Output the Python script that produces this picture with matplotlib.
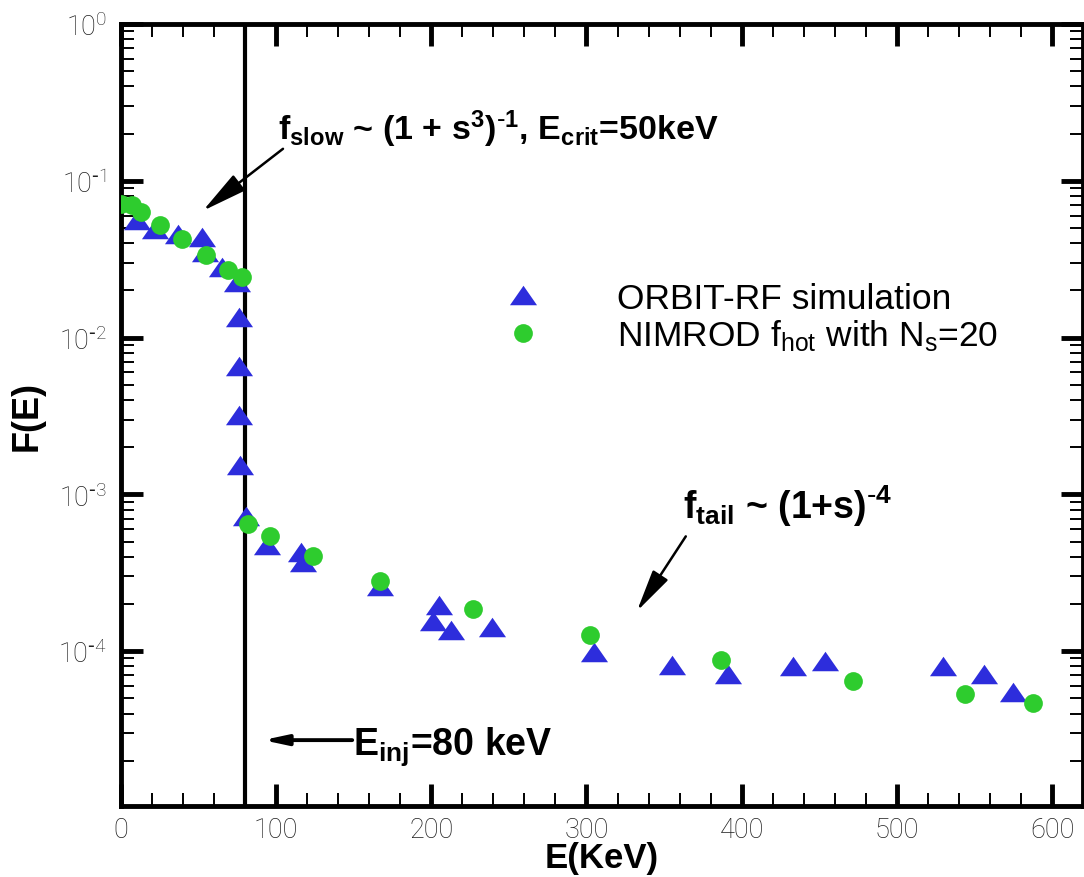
import matplotlib
matplotlib.use("Agg")
import matplotlib.pyplot as plt
from matplotlib.ticker import LogLocator, MultipleLocator, FixedLocator, NullFormatter, FuncFormatter
import numpy as np

plt.rcParams["axes.unicode_minus"] = False

# ---------------- data ----------------
orbit_E = [10, 22, 37, 52, 54, 65, 75, 76, 76, 76, 76.5, 80.5,
           94, 116, 117, 167, 201, 205, 213, 239, 305, 355, 391,
           433, 454, 530, 556, 575]
orbit_F = [0.056, 0.049, 0.046, 0.044, 0.035, 0.028, 0.0225, 0.0136, 0.0066,
           0.0032, 0.00153, 0.00073,
           4.75e-4, 4.3e-4, 3.7e-4, 2.6e-4, 1.55e-4, 1.97e-4, 1.37e-4, 1.42e-4,
           9.9e-5, 8.2e-5, 7.2e-5, 8.1e-5, 8.6e-5, 8.1e-5, 7.2e-5, 5.5e-5]

nimrod_E = [0, 7, 13, 25, 39, 55, 69, 78, 82, 96, 124, 167, 227, 302, 387,
            472, 544, 588]
nimrod_F = [0.0714, 0.0696, 0.0632, 0.0525, 0.0423, 0.0334, 0.0268, 0.0244,
            6.45e-4, 5.46e-4, 4.07e-4, 2.8e-4, 1.85e-4, 1.26e-4, 8.8e-5,
            6.5e-5, 5.3e-5, 4.7e-5]

E_inj = 80
x_ticks = [0, 100, 200, 300, 400, 500, 600]
series_labels = ["ORBIT-RF simulation", r"NIMROD $\mathdefault{f_{hot}}$ with $\mathdefault{N_{s}}$=20"]

# ---------------- style ----------------
BLUE = "#2d2ddc"
GREEN = "#2ecc2e"
tri = [(0, 0.72), (-1, -0.72), (1, -0.72)]

fig = plt.figure(figsize=(10.84, 8.78), dpi=100)
ax = fig.add_axes([121 / 1084, 1 - 807 / 878, (1083 - 121) / 1084, (807 - 25) / 878])

ax.plot(orbit_E, orbit_F, linestyle="none", marker=tri, markersize=19.5,
        color=BLUE, markeredgewidth=0, label=series_labels[0], zorder=3)
ax.plot(nimrod_E, nimrod_F, linestyle="none", marker="o", markersize=13.5,
        color=GREEN, markeredgewidth=0, label=series_labels[1], zorder=4)

ax.axvline(E_inj, color="black", lw=3.0, zorder=2)

ax.set_yscale("log")
ax.set_xlim(0, 620)
ax.set_ylim(1.03e-5, 1.0)

for s in ax.spines.values():
    s.set_linewidth(3.5)

ax.xaxis.set_major_locator(FixedLocator(x_ticks))
ax.xaxis.set_minor_locator(MultipleLocator(20))
ax.yaxis.set_major_locator(LogLocator(base=10, numticks=20))
ax.yaxis.set_minor_locator(LogLocator(base=10, subs=np.arange(2, 10), numticks=20))
ax.yaxis.set_minor_formatter(NullFormatter())


def ylab(v, p):
    e = int(round(np.log10(v)))
    if e < 0:
        return r"$\mathdefault{10^{\text{-}%d}}$" % (-e)
    return r"$\mathdefault{10^{%d}}$" % e


ax.yaxis.set_major_formatter(FuncFormatter(ylab))

ax.tick_params(which="both", direction="in", top=True, right=True)
ax.tick_params(which="major", length=16, width=3.5)
ax.tick_params(which="minor", length=9.5, width=1.4)
ax.tick_params(axis="x", which="major", pad=7)
ax.tick_params(axis="y", which="major", pad=10)

for lab in ax.get_xticklabels() + ax.get_yticklabels():
    lab.set_fontfamily(["Roboto", "DejaVu Sans"])
    lab.set_fontweight("light")
    lab.set_fontsize(19.5)
    lab.set_color("#1e1e1e")

fam = ["Liberation Sans", "DejaVu Sans"]
ax.set_xlabel("E(KeV)", family=fam, weight="bold", size=25)
ax.xaxis.set_label_coords(0.5, (807 - 842) / 782)
ax.set_ylabel("F(E)", family=fam, weight="bold", size=26, labelpad=10)

# f_slow annotation
ax.text(101, 0.185, r"$\mathdefault{f_{slow}}$ ~ (1 + $\mathdefault{s^{3}}$)$\mathdefault{^{\text{-}1}}$, $\mathdefault{E_{crit}}$=50keV",
        ha="left", va="baseline", family=fam, weight="bold", size=24.5, color="black")
ax.annotate("", xy=(52.8, 0.0644), xytext=(104.4, 0.16),
            arrowprops=dict(arrowstyle="-|>,head_length=2.8,head_width=0.6",
                            mutation_scale=10, lw=1.8, color="black",
                            shrinkA=0, shrinkB=0))

# f_tail annotation
ax.text(362, 7.03e-4, r"$\mathdefault{f_{tail}}$ ~ (1+s)$\mathdefault{^{\text{-}4}}$",
        ha="left", va="baseline", family=fam, weight="bold", size=27, color="black")
ax.annotate("", xy=(332.5, 1.8e-4), xytext=(364, 5.4e-4),
            arrowprops=dict(arrowstyle="-|>,head_length=2.6,head_width=0.55",
                            mutation_scale=10, lw=1.8, color="black",
                            shrinkA=0, shrinkB=0))

# E_inj annotation
ax.text(149.5, 2.21e-5, r"$\mathdefault{E_{inj}}$=80 keV", ha="left", va="baseline",
        family=fam, weight="bold", size=27, color="black")
ax.annotate("", xy=(91.5, 2.71e-5), xytext=(149, 2.71e-5),
            arrowprops=dict(arrowstyle="-|>,head_length=1.4,head_width=0.3",
                            mutation_scale=10, lw=2.8, color="black",
                            shrinkA=0, shrinkB=0))

leg = ax.legend(loc="upper left", bbox_to_anchor=(465 / 1084, 1 - 251 / 878),
                bbox_transform=fig.transFigure, frameon=False,
                handlelength=1.5, handletextpad=1.9, labelspacing=0.08,
                prop=dict(family=fam, size=25.5))

fig.savefig("out.png", dpi=100)
